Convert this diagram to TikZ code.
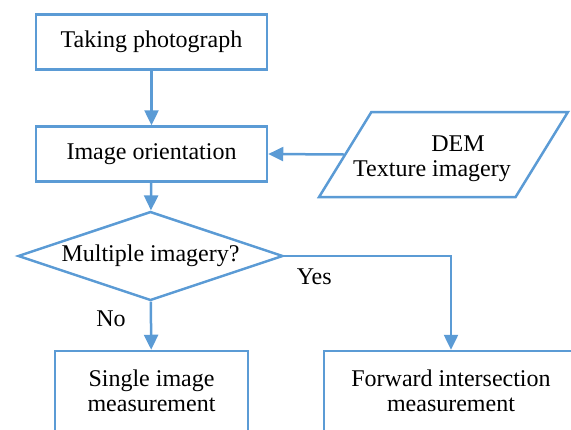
\documentclass[tikz,border=0pt]{standalone}
\usepackage{fontspec}
\setmainfont{Liberation Serif}
\usetikzlibrary{arrows.meta, shapes.geometric}
\definecolor{flowblue}{RGB}{91,155,213}

\begin{document}
\begin{tikzpicture}[x=1pt, y=-1pt,
        font=\fontsize{24}{24.5}\selectfont,
        box/.style={draw=flowblue, line width=2.5pt, inner sep=0pt, align=center},
        flow/.style={draw=flowblue, line width=2.5pt, -{Triangle[length=15pt,width=14pt]}},
        lbl/.style={inner sep=0pt}]
        \clip (0,0) rectangle (571,429);

        \node[box, minimum width=231pt, minimum height=55pt] (photo) at (151.5, 42) {Taking photograph};
        \node[box, minimum width=231pt, minimum height=55pt] (orient) at (151.5, 154) {Image orientation};
        \node[box, trapezium, trapezium left angle=59, trapezium right angle=121, trapezium stretches=true,
              inner xsep=-20pt, inner ysep=15.6pt, minimum width=249pt, minimum height=85pt] (dem) at (443.5, 154.5)
              {\rule{0pt}{24pt}\hspace*{29pt}DEM\\Texture imagery\hspace*{23pt}};
        \node[box, diamond, shape aspect=2.98, minimum width=265pt, minimum height=89pt] (multi) at (150.5, 256) {Multiple imagery?};
        \node[box, minimum width=193pt, minimum height=80pt] (single) at (151.5, 391) {Single image\\measurement};
        \node[box, minimum width=254pt, minimum height=80pt] (forward) at (451, 391) {Forward intersection\\measurement};

        \draw[flow] (photo) -- (orient);
        \draw[flow] (dem.left side) -- (orient.east);
        \draw[flow] (orient) -- (multi);
        \draw[flow] (multi) -- node[lbl, pos=0.35, left=24pt] {No} (single);
        \draw[flow] (multi.east) -| node[lbl, pos=0.09, below=12pt] {Yes} (forward);

    \end{tikzpicture}
\end{document}
